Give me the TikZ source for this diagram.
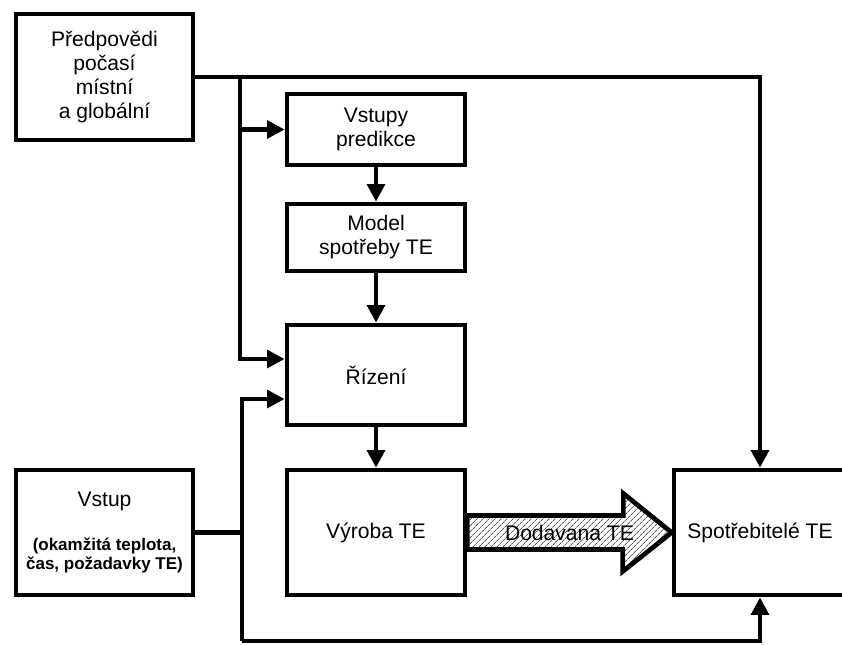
\documentclass[tikz,border=0pt]{standalone}
\usepackage{fontspec}
\setmainfont{Liberation Sans}
\usetikzlibrary{calc,arrows.meta,patterns.meta}
\newcommand\smallb{\bfseries\fontsize{14.5}{16}\selectfont}

\begin{document}
\begin{tikzpicture}[x=0.03cm,y=-0.03cm,
 box/.style={draw,line width=4pt,rectangle,inner sep=0pt,align=center,
    font=\fontsize{18}{20.5}\selectfont},
 arr/.style={line width=3.6pt,-{Triangle[length=15pt,width=15pt]}},
 wire/.style={line width=3.6pt},
 bigarrow/.style={draw,line width=4pt,line join=miter,
    pattern={Lines[angle=45,distance=4pt,line width=0.5pt]}}]

 \useasboundingbox (0,0) rectangle (842,644);

% boxes
 \node (pred) [box,minimum width=5.31cm,minimum height=3.78cm] at (104.5,77)
    {Předpovědi\\počasí\\místní\\a globální};
 \node (vstpred) [box,minimum width=5.34cm,minimum height=2.13cm] at (376,129.5)
    {Vstupy\\predikce};
 \node (model) [box,minimum width=5.34cm,minimum height=2.01cm] at (376,237.5)
    {Model\\spotřeby TE};
 \node (rizeni) [box,minimum width=5.34cm,minimum height=3.0cm] at (376,375)
    {Řízení};
 \node (vyroba) [box,minimum width=5.34cm,minimum height=3.75cm] at (376,532.5)
    {Výroba TE};
 \node (vstup) [box,minimum width=5.31cm,minimum height=3.75cm,
    font=\fontsize{18}{15.5}\selectfont] at (104.5,532.5)
    {Vstup\\[22pt]\smallb (okamžitá teplota,\\\smallb čas, požadavky TE)};
 \node (spotr) [box,minimum width=5.16cm,minimum height=3.75cm] at (760,532.5)
    {Spotřebitelé TE};

% connectors
 \coordinate (jtop) at (240,77);
 \coordinate (jbot) at (242,641);
 \draw[arr] (pred.east) -| (spotr.north);
 \draw[arr] (jtop) |- (vstpred.west);
 \draw[arr] (jtop) |- ($(rizeni.west)+(0,-16)$);
 \draw[arr] (vstpred) -- (model);
 \draw[arr] (model) -- (rizeni);
 \draw[arr] (rizeni) -- (vyroba);
 \draw[arr] (jbot) |- ($(rizeni.west)+(0,24)$);
 \draw[arr] (jbot) -| (spotr.south);
 \draw[wire] (vstup.east) -- (vstup.east -| jbot);

% dodavka
 \draw[bigarrow] ($(vyroba.east)+(0,-17)$) -- ++(156,0) -- ++(0,-22)
    -- (spotr.west) -- ++(-49,39) -- ++(0,-22) -- ($(vyroba.east)+(0,17)$) -- cycle;
 \node (dod) at ($(vyroba.east)!0.5!(spotr.west)$) [font=\fontsize{18}{20.5}\selectfont]
    {Dodavana TE};

\end{tikzpicture}
\end{document}
